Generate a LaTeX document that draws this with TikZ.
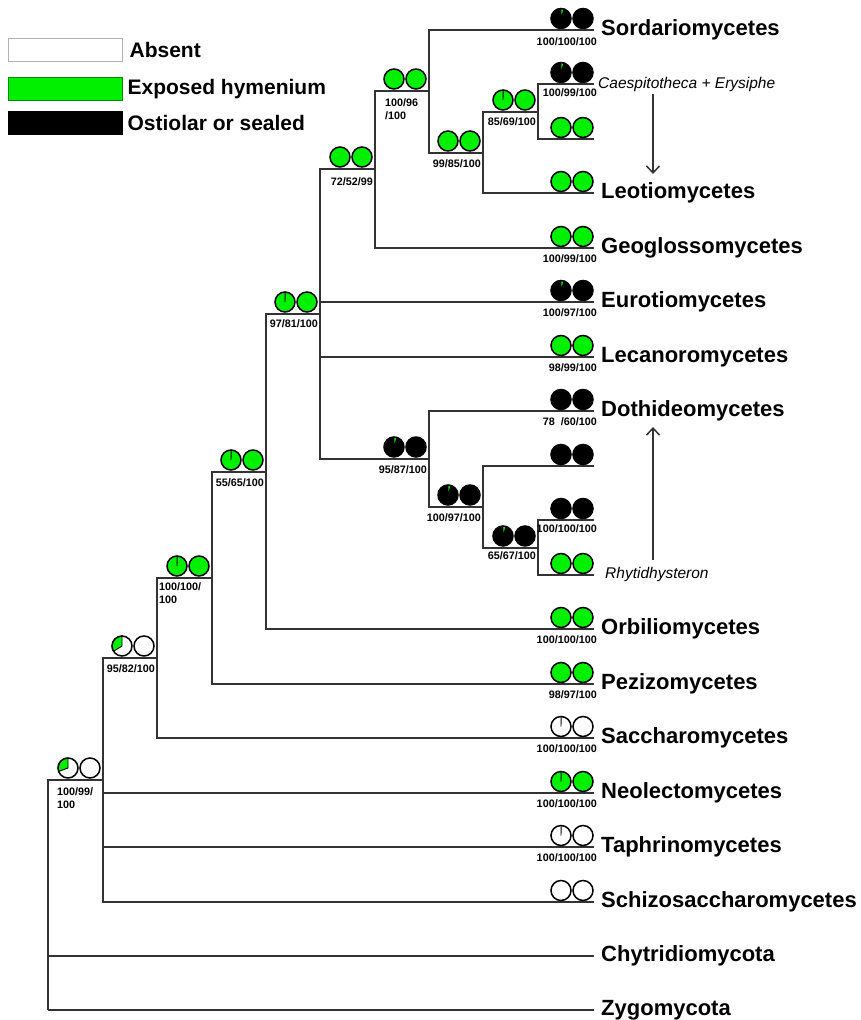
\documentclass[tikz,border=0pt]{standalone}
\usepackage{fontspec}
\setmainfont{Liberation Sans}
\usepackage{xcolor}
\usepackage{tikz}
\usetikzlibrary{arrows.meta, positioning}
\definecolor{exposed}{HTML}{00F000}
\definecolor{branchgray}{HTML}{333333}

% pie of ancestral states: centre, base colour, wedge colour, wedge end angle (90 = no wedge)
\newcommand{\statepie}[4]{%
  \fill[#2] (#1) circle[radius=10];
  \ifnum#4=90\relax\else
    \filldraw[fill=#3, draw=black, line width=0.9] (#1) -- ++(90:10)
      arc[start angle=90, end angle=#4, radius=10] -- cycle;
  \fi
  \draw[line width=1.5] (#1) circle[radius=10];
}

\begin{document}
\begin{tikzpicture}[x=1pt, y=1pt,
  branch/.style={draw=branchgray, line width=1.5},
  taxon/.style={anchor=base west, inner sep=0pt, font=\fontsize{22}{26}\selectfont\bfseries},
  clade/.style={anchor=base west, inner sep=0pt, font=\fontsize{15.5}{18}\selectfont\itshape},
  support/.style={inner sep=0pt, font=\fontsize{10.8}{13}\selectfont\bfseries, align=left},
  legbox/.style={minimum width=114, minimum height=23, inner sep=0pt, line width=0.8},
  legtext/.style={anchor=west, inner sep=0pt, font=\fontsize{21}{24}\selectfont\bfseries},
  pointer/.style={draw=branchgray, line width=1.5, -{Straight Barb[length=7pt, width=13pt]}}
]
\useasboundingbox (0,0) rectangle (861,-1020);

% ---- legend -------------------------------------------------------------
\node[legbox, draw=gray!60, fill=white] (kabs) at (65,-49.5) {};
\node[legbox, draw=green!55!black, fill=exposed] (kexp) at (65,-89) {};
\node[legbox, draw=black, fill=black] (kost) at (65,-123) {};
\node[legtext, right=7pt of kabs] (labs) {Absent};
\node[legtext, right=5pt of kexp] (lexp) {Exposed hymenium};
\node[legtext, right=5pt of kost] (lost) {Ostiolar or sealed};

% ---- tips ---------------------------------------------------------------
\foreach \n/\y in {sor/30, cae/84, leo2/139, leo/193, geo/248, eur/302, lec/357,
                   dot/411, dk1/466, dk2/520, rhy/575, orb/629, pez/684, sac/738,
                   neo/793, tap/847, sch/902, chy/956, zyg/1010}
  \coordinate (\n) at (594,-\y);

% ---- internal nodes (x, stem) ------------------------------------------
\coordinate (nR) at (48,-1010);
\coordinate (nA) at (103,-780);
\coordinate (nB) at (157,-658);
\coordinate (nC) at (212,-578);
\coordinate (nD) at (266,-472);
\coordinate (nE) at (320,-314);
\coordinate (nF) at (375,-169);
\coordinate (nH) at (429,-91);
\coordinate (nI) at (483,-153);
\coordinate (nJ) at (538,-112);
\coordinate (nG) at (429,-459);
\coordinate (nK) at (483,-507);
\coordinate (nL) at (538,-548);

% ---- branches -----------------------------------------------------------
\foreach \p/\c in {nR/nA, nR/chy, nR/zyg, nA/nB, nA/neo, nA/tap, nA/sch,
                   nB/nC, nB/sac, nC/nD, nC/pez, nD/nE, nD/orb,
                   nE/nF, nE/eur, nE/lec, nE/nG, nF/nH, nF/geo,
                   nH/sor, nH/nI, nI/nJ, nI/leo, nJ/cae, nJ/leo2,
                   nG/dot, nG/nK, nK/dk1, nK/nL, nL/dk2, nL/rhy}
  \draw[branch] (\p) |- (\c);

% ---- pies at internal nodes --------------------------------------------
\foreach \c/\a/\w/\e/\b in {nA/white/exposed/200/white, nB/white/exposed/212/white,
    nC/exposed/exposed/89/exposed, nD/exposed/exposed/89/exposed,
    nE/exposed/exposed/89/exposed, nF/exposed/exposed/90/exposed,
    nH/exposed/exposed/90/exposed, nI/exposed/exposed/90/exposed,
    nJ/exposed/exposed/89/exposed, nG/black/exposed/72/black,
    nK/black/exposed/72/black, nL/black/exposed/72/black} {
  \statepie{[xshift=-35pt, yshift=12pt]\c}{\a}{\w}{\e}
  \statepie{[xshift=-13pt, yshift=12pt]\c}{\b}{\b}{90}
}

% ---- pies at tips -------------------------------------------------------
\foreach \c/\a/\w/\e/\b in {sor/black/exposed/72/black, cae/black/exposed/72/black,
    leo2/exposed/exposed/90/exposed, leo/exposed/exposed/90/exposed,
    geo/exposed/exposed/90/exposed, eur/black/exposed/72/black,
    lec/exposed/exposed/90/exposed, dot/black/black/90/black,
    dk1/black/black/90/black, dk2/black/black/90/black,
    rhy/exposed/exposed/90/exposed, orb/exposed/exposed/90/exposed,
    pez/exposed/exposed/90/exposed, sac/white/white/89/white,
    neo/exposed/exposed/89/exposed, tap/white/white/89/white,
    sch/white/white/90/white} {
  \statepie{[xshift=-33pt, yshift=11.5pt]\c}{\a}{\w}{\e}
  \statepie{[xshift=-11pt, yshift=11.5pt]\c}{\b}{\b}{90}
}

% ---- support values -----------------------------------------------------
\foreach \c/\s/\t in {nI/6/{99/85/100}, nJ/5/{85/69/100}, nF/8/{72/52/99},
                      nE/5/{97/81/100}, nG/6/{95/87/100}, nK/6/{100/97/100},
                      nL/3/{65/67/100}, nD/6/{55/65/100}, nB/6/{95/82/100}}
  \node[support, anchor=north east] (s\c) at ([xshift=-2pt, yshift=-\s pt]\c) {\t};
\node[support, anchor=north west] (snH) at ([xshift=-44pt, yshift=-7pt]nH) {100/96\\/100};
\node[support, anchor=north west] (snC) at ([xshift=-53pt, yshift=-4pt]nC) {100/100/\\100};
\node[support, anchor=north west] (snA) at ([xshift=-46pt, yshift=-7pt]nA) {100/99/\\100};

\foreach \c/\s/\t in {sor/7/{100/100/100}, cae/4/{100/99/100}, geo/6/{100/99/100},
                      eur/6/{100/97/100}, lec/6/{98/99/100}, dot/6/{78~~/60/100},
                      dk2/4/{100/100/100}, orb/6/{100/100/100}, pez/6/{98/97/100},
                      sac/6/{100/100/100}, neo/6/{100/100/100}, tap/6/{100/100/100}}
  \node[support, anchor=north east] (s\c) at ([xshift=3pt, yshift=-\s pt]\c) {\t};

% ---- taxa ---------------------------------------------------------------
\foreach \n/\t in {sor/Sordariomycetes, leo/Leotiomycetes, geo/Geoglossomycetes,
                   eur/Eurotiomycetes, lec/Lecanoromycetes, dot/Dothideomycetes,
                   orb/Orbiliomycetes, pez/Pezizomycetes, sac/Saccharomycetes,
                   neo/Neolectomycetes, tap/Taphrinomycetes, sch/Schizosaccharomycetes,
                   chy/Chytridiomycota, zyg/Zygomycota}
  \node[taxon] (t\n) at ([xshift=7pt, yshift=-5pt]\n) {\t};
\node[clade] (tcae) at ([xshift=4pt, yshift=-4pt]cae) {Caespitotheca + Erysiphe};
\node[clade] (trhy) at ([xshift=11pt, yshift=-3pt]rhy) {Rhytidhysteron};

% ---- moves --------------------------------------------------------------
\coordinate (dnS) at (653,-94);
\coordinate (dnE) at (653,-174);
\coordinate (upS) at (653,-560);
\coordinate (upE) at (653,-427);
\draw[pointer] (dnS) -- (dnE);
\draw[pointer] (upS) -- (upE);
\end{tikzpicture}
\end{document}
